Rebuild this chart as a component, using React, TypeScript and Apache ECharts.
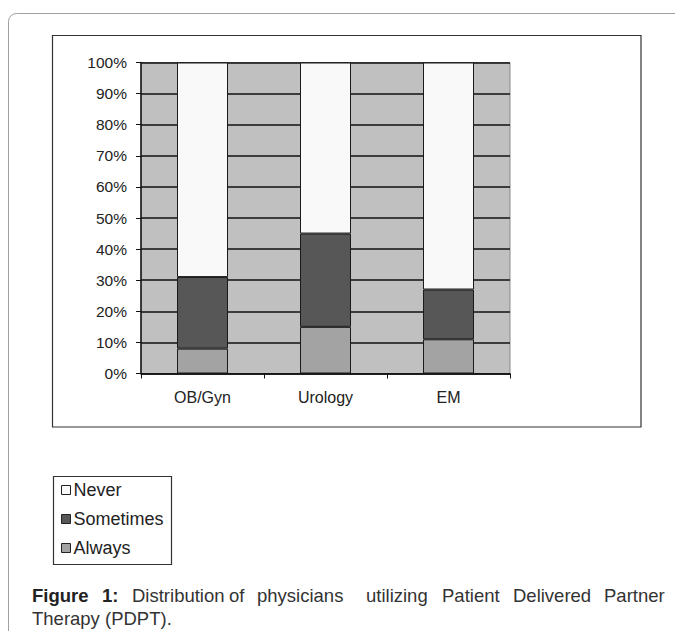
import React, { useEffect, useRef } from "react";
import * as echarts from "echarts";

const categories = ["OB/Gyn", "Urology", "EM"];
const always = [8, 15, 11];
const sometimes = [23, 30, 16];
const never = [69, 55, 73];
const legendNames = ["Never", "Sometimes", "Always"];
const captionLine1 = [
  { t: "Figure", x: 32, bold: true },
  { t: "1:", x: 102, bold: true },
  { t: "Distribution", x: 132 },
  { t: "of", x: 229 },
  { t: "physicians", x: 257 },
  { t: "utilizing", x: 366 },
  { t: "Patient", x: 442 },
  { t: "Delivered", x: 513 },
  { t: "Partner", x: 604 },
];
const captionLine2 = "Therapy (PDPT).";

const FONT = "'Liberation Sans', Arial, sans-serif";

export default function App() {
  const ref = useRef<HTMLDivElement>(null);
  useEffect(() => {
    if (!ref.current) return;
    const chart = echarts.init(ref.current, undefined, { renderer: "svg" });
    const barStyle = (color: string) => ({
      color,
      borderColor: "#1a1a1a",
      borderWidth: 1,
    });
    const graphics: any[] = [
      {
        type: "rect",
        shape: { x: 8.5, y: 13.5, width: 720, height: 700, r: 8 },
        style: { fill: "none", stroke: "#a0a0a0", lineWidth: 1 },
        z: 0,
      },
      {
        type: "rect",
        shape: { x: 52.5, y: 35.5, width: 588.5, height: 391.5 },
        style: { fill: "none", stroke: "#333", lineWidth: 1.2 },
        z: 0,
      },
      {
        type: "rect",
        shape: { x: 53.5, y: 476.5, width: 118, height: 88 },
        style: { fill: "none", stroke: "#333", lineWidth: 1.2 },
        z: 0,
      },
    ];
    captionLine1.forEach((w) => {
      graphics.push({
        type: "text",
        x: w.x,
        y: 595,
        style: {
          text: w.t,
          fill: w.bold ? "#222" : "#333",
          font: `${w.bold ? "bold " : ""}18.5px ${FONT}`,
          verticalAlign: "middle",
          align: "left",
        },
      });
    });
    graphics.push({
      type: "text",
      x: 32,
      y: 618,
      style: {
        text: captionLine2,
        fill: "#333",
        font: `18.5px ${FONT}`,
        verticalAlign: "middle",
        align: "left",
      },
    });

    chart.setOption({
      animation: false,
      backgroundColor: "#ffffff",
      textStyle: { fontFamily: FONT },
      grid: {
        left: 141,
        top: 62.5,
        width: 369,
        height: 311,
        show: true,
        backgroundColor: "#c0c0c0",
        borderColor: "#8a8a8a",
        borderWidth: 1,
      },
      legend: {
        orient: "vertical",
        left: 61,
        top: 480,
        data: legendNames,
        itemWidth: 9,
        itemHeight: 9,
        itemGap: 9,
        padding: 0,
        icon: "rect",
        itemStyle: { borderColor: "#222", borderWidth: 1 },
        textStyle: { fontSize: 18, color: "#222", fontFamily: FONT, lineHeight: 20, padding: [0, 0, 0, -2] },
        selectedMode: false,
      },
      xAxis: {
        type: "category",
        data: categories,
        axisLine: { lineStyle: { color: "#111", width: 1.5 } },
        axisTick: { show: true, length: 5, lineStyle: { color: "#111" } },
        axisLabel: { fontSize: 16, color: "#222", margin: 16 },
      },
      yAxis: {
        type: "value",
        min: 0,
        max: 100,
        interval: 10,
        axisLine: { show: true, lineStyle: { color: "#111", width: 1.5 } },
        axisTick: { show: true, length: 5, lineStyle: { color: "#111" } },
        axisLabel: { formatter: "{value}%", fontSize: 15.5, color: "#222", margin: 14 },
        splitLine: { show: true, lineStyle: { color: "#111", width: 1.5 } },
      },
      graphic: graphics,
      series: [
        {
          name: "Always",
          type: "bar",
          stack: "total",
          barWidth: 51,
          data: always,
          itemStyle: barStyle("#a3a3a3"),
        },
        {
          name: "Sometimes",
          type: "bar",
          stack: "total",
          barWidth: 51,
          data: sometimes,
          itemStyle: barStyle("#575757"),
        },
        {
          name: "Never",
          type: "bar",
          stack: "total",
          barWidth: 51,
          data: never,
          itemStyle: barStyle("#f9f9f9"),
        },
      ],
    });
    return () => chart.dispose();
  }, []);
  return (
    <div
      ref={ref}
      style={{ position: "absolute", left: 0, top: 0, width: 675, height: 631 }}
    />
  );
}
